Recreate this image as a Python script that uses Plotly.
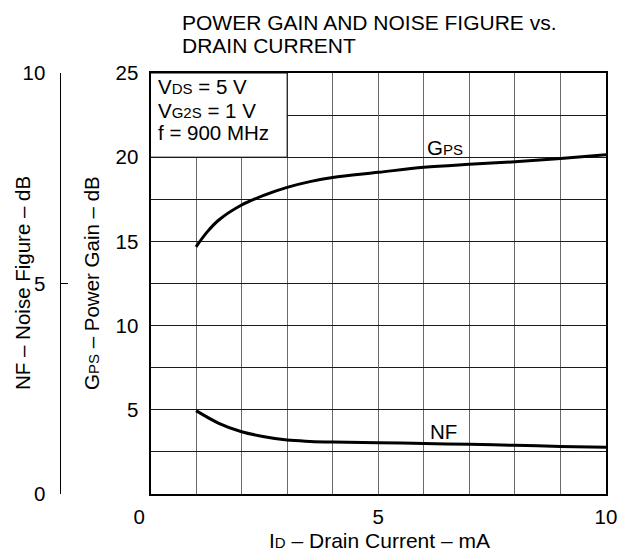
import plotly.graph_objects as go

# ---- data ----
id_gps = [1, 1.25, 1.5, 2, 2.5, 3, 3.5, 4, 5, 6, 7, 8, 9, 10]
gps_db = [14.68, 15.58, 16.27, 17.16, 17.75, 18.21, 18.55, 18.8, 19.1, 19.4, 19.58, 19.73, 19.93, 20.15]

id_nf = [1, 1.5, 2, 2.5, 3, 3.5, 4, 5, 6, 7, 8, 9, 10]
nf_db = [1.98, 1.68, 1.48, 1.36, 1.28, 1.25, 1.235, 1.22, 1.20, 1.18, 1.157, 1.13, 1.11]

x_ticks = [0, 5, 10]
x_ticktext = ["0\u2007\u2007", "5", "10"]
gps_ticks = [5, 10, 15, 20, 25]
nf_ticks = [0, 5, 10]

W, H = 618, 555
# plot area in page pixels
PL, PR, PT, PB = 150.5, 606, 73, 494
ML = 2
MR = W - PR
MT = PT
MB = H - PB
PW, PH = W - ML - MR, H - MT - MB
FONT = "Liberation Sans, Arial, sans-serif"
FS = 20.5


def px(xp):
    return (xp - ML) / PW


def py(yp):
    return (H - MB - yp) / PH


def small(t):
    return "<span style='font-size:15px'>" + t + "</span>"


fig = go.Figure()
fig.add_trace(go.Scatter(x=id_gps, y=gps_db, mode="lines", line=dict(color="black", width=3, shape="spline"),
                         showlegend=False, hoverinfo="skip"))
fig.add_trace(go.Scatter(x=id_nf, y=nf_db, mode="lines", yaxis="y2",
                         line=dict(color="black", width=3, shape="spline"),
                         showlegend=False, hoverinfo="skip"))

fig.update_layout(
    width=W, height=H,
    margin=dict(l=ML, r=MR, t=MT, b=MB, autoexpand=False),
    paper_bgcolor="white", plot_bgcolor="white",
    font=dict(family=FONT, size=FS, color="black"),
    xaxis=dict(
        domain=[px(PL), 1], range=[0, 10], tickvals=x_ticks, ticktext=x_ticktext,
        showgrid=True, gridcolor="#6a6a6a", gridwidth=1,
        minor=dict(dtick=1, showgrid=True, gridcolor="#6a6a6a", gridwidth=1),
        showline=True, linecolor="black", linewidth=2, mirror=True,
        ticks="", ticklabelstandoff=3, zeroline=False, tickfont=dict(size=FS),
        automargin=False, ticklabeloverflow="allow",
    ),
    yaxis=dict(
        range=[0, 25], tickvals=gps_ticks,
        showgrid=True, gridcolor="#1a1a1a", gridwidth=1,
        minor=dict(dtick=2.5, showgrid=True, gridcolor="#1a1a1a", gridwidth=1),
        showline=True, linecolor="black", linewidth=2, mirror=True,
        ticks="", ticklabelstandoff=6, zeroline=False, tickfont=dict(size=FS),
        automargin=False,
    ),
    yaxis2=dict(
        overlaying="y", anchor="free", position=px(59.5), side="left",
        range=[0, 10], tickvals=nf_ticks, showgrid=False, zeroline=False,
        showline=True, linecolor="black", linewidth=1,
        ticks="inside", ticklen=7, tickcolor="black", tickwidth=1,
        ticklabelstandoff=10, tickfont=dict(size=FS), automargin=False,
    ),
)

# Condition box (covers the grid in the upper-left corner)
fig.add_shape(type="rect", xref="x", yref="y", x0=0, x1=3, y0=20, y1=25,
              fillcolor="white", line=dict(color="black", width=1), layer="between")

ann = []
cond = ["V" + small("DS") + " = 5 V", "V" + small("G2S") + " = 1 V", "f = 900 MHz"]
cond_y = [24.17, 22.8, 21.44]
for t, yv in zip(cond, cond_y):
    ann.append(dict(x=0.12, y=yv, xref="x", yref="y", text=t, showarrow=False,
                    xanchor="left", yanchor="middle", font=dict(size=FS)))
ann.append(dict(x=6.03, y=20.6, xref="x", yref="y", text="G" + small("PS"), showarrow=False,
                xanchor="left", yanchor="middle", font=dict(size=FS)))
ann.append(dict(x=6.1, y=3.72, xref="x", yref="y", text="NF", showarrow=False,
                xanchor="left", yanchor="middle", font=dict(size=FS)))
# titles
ann.append(dict(x=px(180), y=py(22), xref="paper", yref="paper", text="POWER GAIN AND NOISE FIGURE vs.",
                showarrow=False, xanchor="left", yanchor="middle", font=dict(size=21)))
ann.append(dict(x=px(180), y=py(45), xref="paper", yref="paper", text="DRAIN CURRENT",
                showarrow=False, xanchor="left", yanchor="middle", font=dict(size=21)))
ann.append(dict(x=px(379), y=py(540), xref="paper", yref="paper", text="I" + small("D") + " – Drain Current – mA",
                showarrow=False, xanchor="center", yanchor="middle", font=dict(size=21)))
ann.append(dict(x=px(22), y=py(283), xref="paper", yref="paper", text="NF – Noise Figure – dB",
                showarrow=False, textangle=-90, xanchor="center", yanchor="middle", font=dict(size=FS)))
ann.append(dict(x=px(91), y=py(283), xref="paper", yref="paper", text="G" + small("PS") + " – Power Gain – dB",
                showarrow=False, textangle=-90, xanchor="center", yanchor="middle", font=dict(size=FS)))
fig.update_layout(annotations=ann)

fig.write_html("out.html", config={"displayModeBar": False},
               post_script="document.body.style.margin='0';document.body.style.overflow='hidden';")
